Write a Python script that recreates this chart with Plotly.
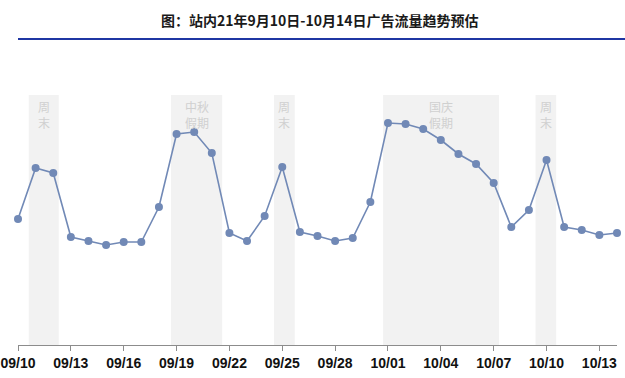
import plotly.graph_objects as go
import pandas as pd

dates = pd.date_range("2021-09-10", "2021-10-14", freq="D").strftime("%Y-%m-%d").tolist()
traffic = [126, 177, 172, 108, 104, 100, 103, 103, 138, 211, 213, 192, 112, 104, 129,
           178, 113, 109, 104, 107, 143, 222, 221, 216, 205, 191, 181, 162, 118, 135,
           185, 118, 115, 110, 112]

tick_vals = ["2021-09-10", "2021-09-13", "2021-09-16", "2021-09-19", "2021-09-22", "2021-09-25",
             "2021-09-28", "2021-10-01", "2021-10-04", "2021-10-07", "2021-10-10", "2021-10-13"]
tick_text = ["09/10", "09/13", "09/16", "09/19", "09/22", "09/25",
             "09/28", "10/01", "10/04", "10/07", "10/10", "10/13"]

region_start = ["2021-09-10 14:40", "2021-09-18 16:30", "2021-09-24 12:40", "2021-09-30 17:20", "2021-10-09 09:00"]
region_end = ["2021-09-12 07:30", "2021-09-21 14:10", "2021-09-25 17:00", "2021-10-07 07:10", "2021-10-10 13:10"]
region_label = ["周<br>末", "中秋<br>假期", "周<br>末", "国庆<br>假期", "周<br>末"]

title_text = "图：站内21年9月10日-10月14日广告流量趋势预估"

fig = go.Figure()
fig.add_trace(go.Scatter(
    x=dates, y=traffic, mode="lines+markers",
    line=dict(color="#7189b6", width=1.6),
    marker=dict(color="#7189b6", size=8),
    cliponaxis=False, hoverinfo="x+y",
))

shapes = []
annotations = []
for s, e, lab in zip(region_start, region_end, region_label):
    shapes.append(dict(type="rect", xref="x", yref="paper", x0=s, x1=e, y0=0, y1=1,
                       fillcolor="#f2f2f2", line=dict(width=0), layer="below"))
    mid = pd.Timestamp(s) + (pd.Timestamp(e) - pd.Timestamp(s)) / 2
    annotations.append(dict(x=mid.strftime("%Y-%m-%d %H:%M"), xref="x", yref="paper", y=1,
                            yanchor="top", yshift=-1, text=lab, showarrow=False,
                            font=dict(size=12, color="#d0d0d0",
                                      family="Noto Sans CJK SC")))

shapes.append(dict(type="line", xref="paper", yref="paper", x0=0, x1=1.02, y0=1.224, y1=1.224,
                   line=dict(color="#1f36a3", width=2)))
annotations.append(dict(x=0.505, y=1.3, xref="paper", yref="paper", text="<b>" + title_text + "</b>",
                        showarrow=False, yanchor="middle",
                        font=dict(size=14, color="#1a1a1a", family="Noto Sans CJK SC")))

fig.update_layout(
    width=625, height=378,
    margin=dict(l=18, r=8, t=95, b=33, autoexpand=False),
    paper_bgcolor="white", plot_bgcolor="white",
    showlegend=False,
    shapes=shapes, annotations=annotations,
    xaxis=dict(type="date", range=["2021-09-10", "2021-10-14"], tickvals=tick_vals,
               ticktext=["<b>" + t + "</b>" for t in tick_text], automargin=False,
               showgrid=False, zeroline=False, showline=True, linecolor="#8c8c8c", linewidth=1,
               ticks="outside", ticklen=5, tickcolor="#8c8c8c",
               tickfont=dict(size=14, color="#111111", family="Liberation Sans")),
    yaxis=dict(range=[0, 250], visible=False, automargin=False),
)

fig.write_html("out.html")
